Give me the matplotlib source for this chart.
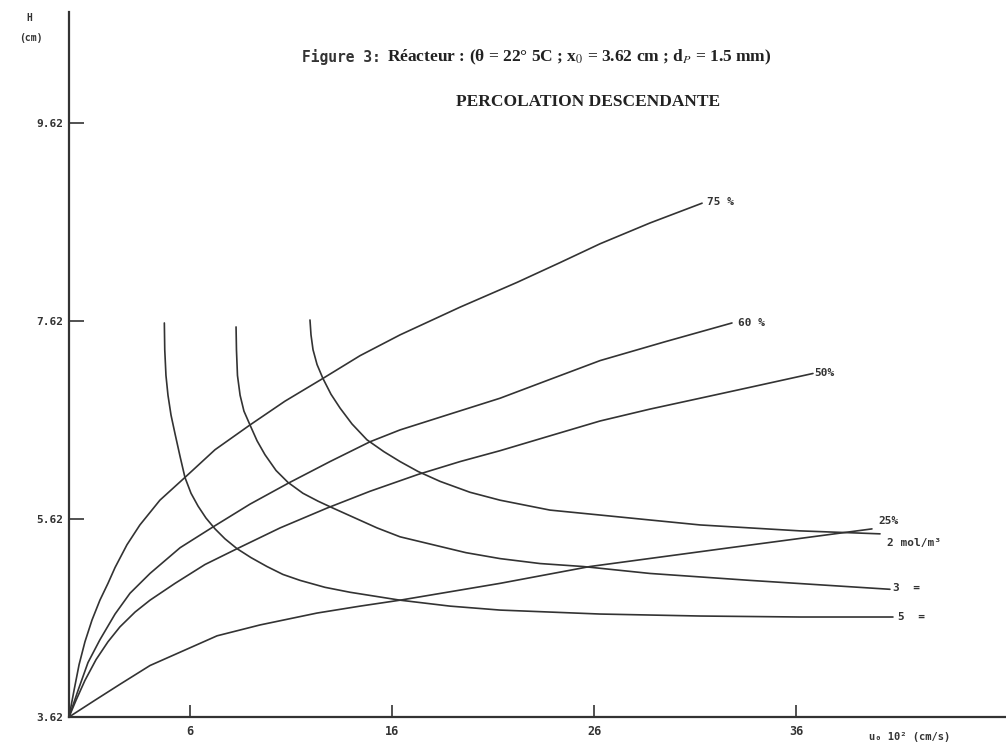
import matplotlib
matplotlib.use("Agg")
import matplotlib.pyplot as plt

plt.rcParams['mathtext.fontset'] = 'stix'

W, H = 1006, 746

# ---- data ----
# iso-conversion curves (fan from origin)
c75_x = [0, 0.25, 0.50, 0.79, 1.14, 1.53, 1.93, 2.28, 2.87, 3.51, 4.50, 5.74, 7.23, 8.96,
         10.69, 12.57, 14.41, 16.39, 19.36, 22.18, 24.31, 26.29, 28.76, 31.34]
c75_y = [3.62, 3.89, 4.15, 4.38, 4.60, 4.80, 4.97, 5.13, 5.36, 5.56, 5.81, 6.04, 6.32, 6.57,
         6.81, 7.04, 7.27, 7.48, 7.76, 8.01, 8.21, 8.40, 8.61, 8.81]

c60_x = [0, 0.45, 0.94, 1.53, 2.28, 3.02, 4.01, 5.50, 7.13, 8.96, 10.84, 12.92, 14.90,
         16.39, 18.86, 21.34, 23.81, 26.29, 29.50, 32.82]
c60_y = [3.62, 3.89, 4.17, 4.40, 4.66, 4.87, 5.07, 5.33, 5.54, 5.77, 5.98, 6.20, 6.40,
         6.52, 6.68, 6.84, 7.03, 7.22, 7.41, 7.60]

c50_x = [0, 0.35, 0.79, 1.34, 1.93, 2.52, 3.27, 4.01, 5.25, 6.73, 8.32, 10.45, 12.77,
         14.90, 17.28, 19.36, 21.34, 23.81, 26.29, 28.76, 31.24, 33.71, 36.83]
c50_y = [3.62, 3.79, 3.99, 4.20, 4.38, 4.53, 4.68, 4.80, 4.97, 5.16, 5.32, 5.53, 5.73,
         5.90, 6.07, 6.20, 6.31, 6.46, 6.61, 6.73, 6.84, 6.95, 7.09]

c25_x = [0, 1.29, 2.52, 4.01, 7.33, 9.46, 12.28, 14.41, 16.39, 21.34, 25.79, 32.72, 39.75]
c25_y = [3.62, 3.79, 3.95, 4.14, 4.44, 4.55, 4.67, 4.74, 4.80, 4.97, 5.14, 5.33, 5.52]

# iso-concentration curves
m5_x = [4.72, 4.74, 4.80, 4.90, 5.05, 5.25, 5.50, 5.74, 6.04, 6.39, 6.78, 7.23, 7.72,
        8.32, 9.01, 9.80, 10.59, 11.44, 12.67, 13.91, 15.15, 16.39, 18.86, 21.34,
        23.81, 26.29, 31.24, 36.19, 40.79]
m5_y = [7.60, 7.33, 7.07, 6.87, 6.67, 6.48, 6.25, 6.04, 5.88, 5.75, 5.63, 5.52, 5.42,
        5.32, 5.23, 5.14, 5.06, 5.00, 4.93, 4.88, 4.84, 4.80, 4.74, 4.70,
        4.68, 4.66, 4.64, 4.63, 4.63]

m3_x = [8.27, 8.29, 8.34, 8.47, 8.66, 8.96, 9.31, 9.70, 10.25, 10.84, 11.58, 12.33, 13.07,
        14.16, 15.25, 16.39, 18.02, 19.65, 21.34, 23.32, 25.45, 28.76, 33.71, 40.64]
m3_y = [7.56, 7.33, 7.07, 6.87, 6.71, 6.57, 6.41, 6.27, 6.11, 5.99, 5.88, 5.80, 5.73,
        5.63, 5.53, 5.44, 5.36, 5.28, 5.22, 5.17, 5.14, 5.07, 5.00, 4.91]

m2_x = [11.93, 11.98, 12.08, 12.28, 12.57, 12.97, 13.42, 14.01, 14.75, 15.59, 16.39, 17.28,
        18.37, 19.85, 21.34, 23.81, 26.29, 28.76, 31.24, 36.19, 40.15]
m2_y = [7.63, 7.48, 7.33, 7.18, 7.04, 6.88, 6.74, 6.58, 6.42, 6.30, 6.20, 6.10,
        6.00, 5.89, 5.81, 5.71, 5.66, 5.61, 5.56, 5.50, 5.47]

xticks = [6, 16, 26, 36]
xticklabels = ["6", "16", "26", "36"]
yticks = [3.62, 5.62, 7.62, 9.62]
yticklabels = ["3.62", "5.62", "7.62", "9.62"]

curve_labels = [
    (31.6, 8.82, "75 %"),
    (33.1, 7.60, "60 %"),
    (36.9, 7.09, "50%"),
    (40.05, 5.60, "25%"),
]
conc_labels = [
    (40.5, 5.38, "2 mol/m³"),
    (40.8, 4.92, "3  ="),
    (41.05, 4.63, "5  ="),
]

# ---- figure ----
ink = "#333333"
mono = "DejaVu Sans Mono"
fig = plt.figure(figsize=(W / 100, H / 100), dpi=100)
fig.patch.set_facecolor("white")
ax = fig.add_axes([69 / W, 29 / H, (W - 69) / W, (717 - 12) / H])
ax.set_xlim(0, (W - 69) / 20.2)
ax.set_ylim(3.62, 3.62 + 705 / 99)

for sp in ("top", "right"):
    ax.spines[sp].set_visible(False)
for sp in ("left", "bottom"):
    ax.spines[sp].set_linewidth(1.6)
    ax.spines[sp].set_color(ink)

lw = 1.2
for xs, ys in [(c75_x, c75_y), (c60_x, c60_y), (c50_x, c50_y), (c25_x, c25_y),
               (m5_x, m5_y), (m3_x, m3_y), (m2_x, m2_y)]:
    ax.plot(xs, ys, color=ink, lw=lw, solid_capstyle="round",
            solid_joinstyle="round", clip_on=False)

ax.set_xticks(xticks)
ax.set_xticklabels(xticklabels, family=mono, fontsize=8.5, color=ink, weight="bold")
ax.set_yticks(yticks)
ax.set_yticklabels(yticklabels, family=mono, fontsize=8, color=ink, weight="bold")
ax.tick_params(axis="x", direction="in", length=9, width=1.2, color=ink, pad=6)
ax.tick_params(axis="y", direction="in", length=11, width=1.2, color=ink, pad=4)

for x, y, s in curve_labels + conc_labels:
    ax.text(x, y, s, family=mono, fontsize=8, color=ink, weight="bold",
            ha="left", va="center")

# axis labels
fig.text(29 / W, 1 - 18 / H, "H", family=mono, fontsize=7, color=ink, weight="bold",
         ha="center", va="center")
fig.text(31 / W, 1 - 38 / H, "(cm)", family=mono, fontsize=7, color=ink, weight="bold",
         ha="center", va="center")
fig.text(910 / W, 1 - 737 / H, "u₀ 10² (cm/s)", family=mono, fontsize=7.5,
         color=ink, weight="bold", ha="center", va="center")

# titles
fig.text(302 / W, 1 - 57 / H, "Figure 3:", family=mono, fontsize=10.5, color=ink,
         weight="bold", ha="left", va="center")
fig.text(387 / W, 1 - 57 / H,
         "Réacteur : (θ = 22° 5C ; x$_0$ = 3.62 cm ; d$_P$ = 1.5 mm)",
         family="Liberation Serif", fontsize=12.5, color="#222222", weight="bold",
         ha="left", va="center")
fig.text(588 / W, 1 - 102 / H, "PERCOLATION DESCENDANTE",
         family="Liberation Serif", fontsize=12.5, color="#222222", weight="bold",
         ha="center", va="center")

fig.savefig("out.png", dpi=100, facecolor="white")
